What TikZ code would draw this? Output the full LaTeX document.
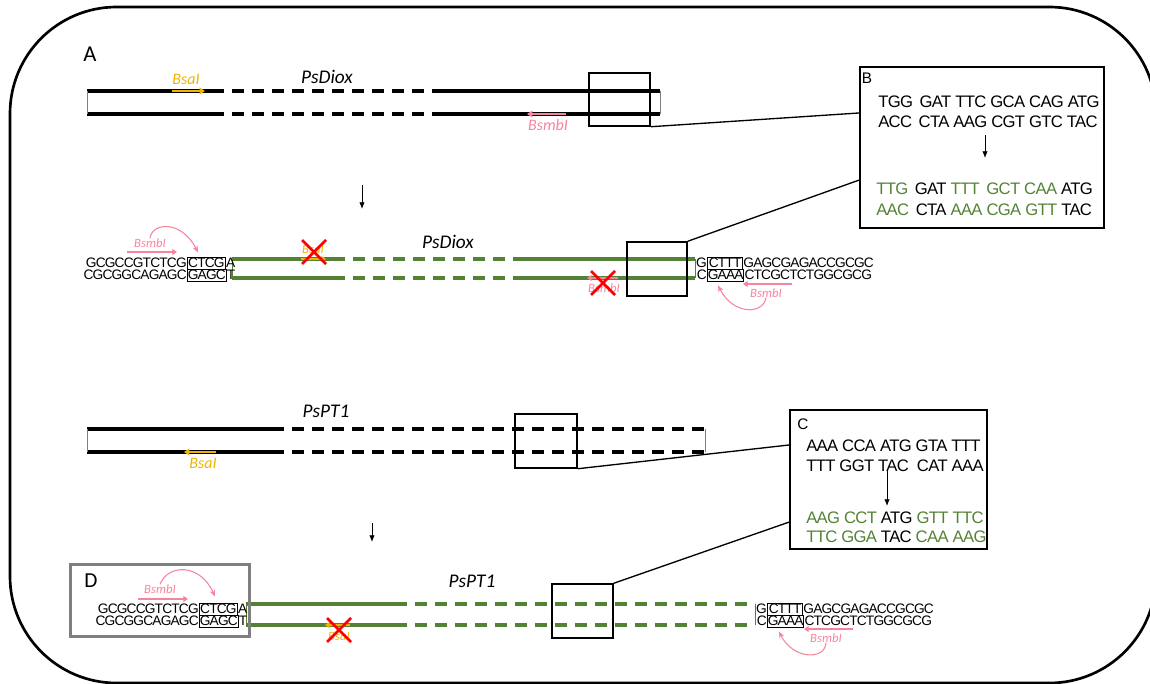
\documentclass[tikz,border=0pt]{standalone}
\usepackage{fontspec}
\setmainfont{Carlito}
\newfontfamily\arialfont{Liberation Sans}
\newfontfamily\seqfont[LetterSpace=-6]{Liberation Sans}
\newfontfamily\codonfont[LetterSpace=-4]{Liberation Sans}
\usetikzlibrary{positioning, arrows.meta, shapes.misc}

\definecolor{dnagreen}{HTML}{548235}
\definecolor{bsacol}{HTML}{F0B400}
\definecolor{bsmbcol}{HTML}{F7849D}
\definecolor{framegray}{HTML}{7F7F7F}

\tikzset{
	strand/.style={line width=3pt},
	gstrand/.style={line width=2.5pt, draw=dnagreen},
	gapped/.style={dash pattern=on 9pt off 6pt},
	strandend/.style={line width=0.6pt, draw=gray},
	gstrandend/.style={line width=0.6pt, draw=dnagreen},
	zoombox/.style={draw, line width=1.1pt, inner sep=0pt},
	panel/.style={draw, line width=1.1pt, inner sep=0pt},
	seq/.style={font=\seqfont\fontsize{10.3}{9}\selectfont, inner sep=0pt},
	seqbox/.style={seq, draw, line width=0.6pt, minimum height=9pt, inner xsep=0.3pt},
	codon/.style={font=\codonfont\fontsize{12.5}{14}\selectfont, inner sep=0pt, anchor=west},
	genename/.style={font=\fontsize{14.5}{16}\selectfont\itshape, inner sep=0pt},
	enzbig/.style={font=\fontsize{12}{14}\selectfont\itshape, inner sep=0pt},
	enzsmall/.style={font=\fontsize{9.5}{10}\selectfont\itshape, inner sep=0pt},
	enzarrow/.style={-{Triangle[length=4pt, width=5pt]}, line width=1.8pt},
	enzarrowsmall/.style={-{Triangle[length=3.5pt, width=4.5pt]}, line width=1.4pt},
	siteloop/.style={-{Stealth[length=5pt, width=4pt]}, line width=0.8pt, draw=bsmbcol},
	blocked/.style={cross out, draw=red, line width=2pt, minimum size=16pt, inner sep=0pt},
	downarrow/.style={-{Latex[length=5pt, width=4pt]}, line width=0.6pt},
	zoomline/.style={line width=1pt},
}

\begin{document}
\begin{tikzpicture}[x=0.75pt, y=-0.75pt]
	\useasboundingbox (0,0) rectangle (1150,684);
	\draw[line width=2pt, rounded corners=80pt] (10,7) rectangle (1156,683);

	\node[font=\fontsize{17}{20}\selectfont, inner sep=0pt] (labA) at (90,54) {A};

	% PsDiox, before
	\foreach \y in {91,114} {
		\draw[strand] (87,\y) -- (212,\y);
		\draw[strand, gapped] (212,\y) -- (440,\y);
		\draw[strand] (440,\y) -- (660,\y);
	}
	\draw[strandend] (87,91) -- (87,114);
	\draw[strandend] (660,91) -- (660,114);
	\node[genename] (gene1) at (327,77) {PsDiox};
	\node[enzbig, text=bsacol] (bsa1) at (186,79) {BsaI};
	\coordinate (bsa1a) at (172,91);
	\coordinate (bsa1b) at (205,91);
	\draw[enzarrow, bsacol] (bsa1a) -- (bsa1b);
	\node[enzbig, text=bsmbcol] (bsmb1) at (548,125) {BsmbI};
	\coordinate (bsmb1a) at (566,114);
	\coordinate (bsmb1b) at (527,114);
	\draw[enzarrow, bsmbcol] (bsmb1a) -- (bsmb1b);
	\node[zoombox, minimum width=45.75pt, minimum height=39.75pt] (zoom1) at (619.5,99.5) {};

	\coordinate (dn1a) at (362,185);
	\coordinate (dn1b) at (362,209);
	\draw[downarrow] (dn1a) -- (dn1b);

	% PsDiox, after
	\foreach \y in {259,278} {
		\draw[gstrand] (232,\y) -- (333,\y);
		\draw[gstrand, gapped] (333,\y) -- (518,\y);
		\draw[gstrand] (518,\y) -- (695,\y);
	}
	\draw[gstrandend] (232,259) -- (232,278);
	\draw[gstrandend] (695,259) -- (695,278);
	\node[genename] (gene2) at (448,242) {PsDiox};
	\node[zoombox, minimum width=45pt, minimum height=40.5pt] (zoom2) at (657,269) {};

	\node[seq, anchor=east] (l2t) at (187,263) {GCGCCGTCTCG};
	\node[seqbox, anchor=west, minimum width=28.5pt] (l2tb) at (187,263) {CTCG};
	\node[seq, anchor=west] (l2ta) at (l2tb.east) {A};
	\node[seq, anchor=east] (l2b) at (187,275) {CGCGGCAGAGC};
	\node[seqbox, anchor=west, minimum width=28.5pt] (l2bb) at (187,275) {GAGC};
	\node[seq, anchor=west] (l2ba) at (l2bb.east) {T};

	\node[seq, anchor=east] (r2t) at (707,263) {G};
	\node[seqbox, anchor=west, minimum width=26.5pt] (r2tb) at (707,263) {CTTT};
	\node[seq, anchor=west] (r2ta) at (r2tb.east) {GAGCGAGACCGCGC};
	\node[seq, anchor=east] (r2b) at (707,275) {C};
	\node[seqbox, anchor=west, minimum width=26.5pt] (r2bb) at (707,275) {GAAA};
	\node[seq, anchor=west] (r2ba) at (r2bb.east) {CTCGCTCTGGCGCG};

	\node[enzsmall, text=bsmbcol] (bsmb2l) at (150,243) {BsmbI};
	\coordinate (bsmb2la) at (127,252);
	\coordinate (bsmb2lb) at (177,252);
	\draw[enzarrowsmall, bsmbcol] (bsmb2la) -- (bsmb2lb);
	\draw[siteloop] (bsmb2l.north) .. controls (152,222) and (182,220) .. ([shift={(11,-4)}]l2tb.north west);

	\node[enzsmall, text=bsmbcol] (bsmb2r) at (766,293) {BsmbI};
	\coordinate (bsmb2ra) at (792,284);
	\coordinate (bsmb2rb) at (743,284);
	\draw[enzarrowsmall, bsmbcol] (bsmb2ra) -- (bsmb2rb);
	\draw[siteloop] (bsmb2r.south) .. controls (763,315) and (733,315) .. ([shift={(11,4)}]r2bb.south west);

	\node[enzsmall, text=bsacol] (bsa2) at (313,249) {BsaI};
	\coordinate (bsa2a) at (301,259);
	\coordinate (bsa2b) at (326,259);
	\draw[enzarrowsmall, bsacol] (bsa2a) -- (bsa2b);
	\node[blocked] (x2a) at (314,252) {};

	\node[enzsmall, text=bsmbcol] (bsmb2m) at (604,288) {BsmbI};
	\coordinate (bsmb2ma) at (618,278);
	\coordinate (bsmb2mb) at (587,278);
	\draw[enzarrowsmall, bsmbcol] (bsmb2ma) -- (bsmb2mb);
	\node[blocked] (x2b) at (603,283) {};

	% panel B
	\node[panel, minimum width=183pt, minimum height=120.75pt] (panB) at (982,147.5) {};
	\node[font=\arialfont\fontsize{11.5}{14}\selectfont, inner sep=0pt] (labB) at (867,78) {B};
	\node[codon] (b1) at (878,102) {TGG\hspace{2pt} GAT TTC GCA CAG ATG};
	\node[codon] (b2) at (878,122) {ACC\hspace{2pt} CTA AAG CGT GTC TAC};
	\coordinate (dnBa) at (985,135);
	\coordinate (dnBb) at (985,158);
	\draw[downarrow] (dnBa) -- (dnBb);
	\node[codon] (b3) at (876,189) {\textcolor{dnagreen}{TTG}\hspace{2pt} GAT \textcolor{dnagreen}{TTT\hspace{2pt} GCT CAA} ATG};
	\node[codon] (b4) at (876,210) {\textcolor{dnagreen}{AAC}\hspace{2pt} CTA \textcolor{dnagreen}{AAA CGA GTT} TAC};
	\draw[zoomline] (zoom1.south east) -- ([yshift=25.9pt]panB.west);
	\draw[zoomline] (zoom2.north east) -- ([yshift=-24.4pt]panB.west);

	% PsPT1, before
	\foreach \y in {429,452} {
		\draw[strand] (87,\y) -- (272,\y);
		\draw[strand, gapped] (272,\y) -- (705,\y);
	}
	\draw[strandend] (87,429) -- (87,452);
	\draw[strandend] (705,429) -- (705,452);
	\node[genename] (gene3) at (326,411) {PsPT1};
	\node[enzbig, text=bsacol] (bsa3) at (203,463) {BsaI};
	\coordinate (bsa3a) at (216,452);
	\coordinate (bsa3b) at (184,452);
	\draw[enzarrow, bsacol] (bsa3a) -- (bsa3b);
	\node[zoombox, minimum width=46.5pt, minimum height=40.5pt] (zoom3) at (546,441) {};

	\coordinate (dn3a) at (372,523);
	\coordinate (dn3b) at (372,542);
	\draw[downarrow] (dn3a) -- (dn3b);

	% PsPT1, after
	\foreach \y in {604,625} {
		\draw[gstrand] (246,\y) -- (395,\y);
		\draw[gstrand, gapped] (395,\y) -- (755,\y);
	}
	\draw[gstrandend] (246,604) -- (246,625);
	\draw[gstrandend] (755,604) -- (755,625);
	\node[genename] (gene4) at (472,581) {PsPT1};
	\node[zoombox, minimum width=45.75pt, minimum height=40.5pt] (zoom4) at (582.5,611) {};

	\node[draw=framegray, line width=2.5pt, minimum width=134.25pt, minimum height=54pt, inner sep=0pt] (panD) at (160,600.5) {};
	\node[font=\fontsize{16}{18}\selectfont, inner sep=0pt] (labD) at (91,581) {D};

	\node[seq, anchor=east] (l4t) at (199,609) {GCGCCGTCTCG};
	\node[seqbox, anchor=west, minimum width=28.5pt] (l4tb) at (199,609) {CTCG};
	\node[seq, anchor=west] (l4ta) at (l4tb.east) {A};
	\node[seq, anchor=east] (l4b) at (199,621) {CGCGGCAGAGC};
	\node[seqbox, anchor=west, minimum width=28.5pt] (l4bb) at (199,621) {GAGC};
	\node[seq, anchor=west] (l4ba) at (l4bb.east) {T};

	\node[seq, anchor=east] (r4t) at (767,609) {G};
	\node[seqbox, anchor=west, minimum width=26.5pt] (r4tb) at (767,609) {CTTT};
	\node[seq, anchor=west] (r4ta) at (r4tb.east) {GAGCGAGACCGCGC};
	\node[seq, anchor=east] (r4b) at (767,621) {C};
	\node[seqbox, anchor=west, minimum width=26.5pt] (r4bb) at (767,621) {GAAA};
	\node[seq, anchor=west] (r4ba) at (r4bb.east) {CTCGCTCTGGCGCG};

	\node[enzsmall, text=bsmbcol] (bsmb4l) at (160,589) {BsmbI};
	\coordinate (bsmb4la) at (138,599);
	\coordinate (bsmb4lb) at (188,599);
	\draw[enzarrowsmall, bsmbcol] (bsmb4la) -- (bsmb4lb);
	\draw[siteloop] (bsmb4l.north) .. controls (168,564) and (200,563) .. ([shift={(16,-6)}]l4tb.north west);

	\node[enzsmall, text=bsmbcol] (bsmb4r) at (826,638) {BsmbI};
	\coordinate (bsmb4ra) at (853,629);
	\coordinate (bsmb4rb) at (804,629);
	\draw[enzarrowsmall, bsmbcol] (bsmb4ra) -- (bsmb4rb);
	\draw[siteloop] (bsmb4r.south) .. controls (825,661) and (792,659) .. ([shift={(12,4)}]r4bb.south west);

	\node[enzsmall, text=bsacol] (bsa4) at (339,636) {BsaI};
	\coordinate (bsa4a) at (350,625);
	\coordinate (bsa4b) at (325,625);
	\draw[enzarrowsmall, bsacol] (bsa4a) -- (bsa4b);
	\node[blocked] (x4) at (339,630) {};

	% panel C
	\node[panel, minimum width=147.75pt, minimum height=104.25pt] (panC) at (888.5,479.5) {};
	\node[font=\arialfont\fontsize{11.5}{14}\selectfont, inner sep=0pt] (labC) at (803,424.5) {C};
	\node[codon] (c1) at (806,446) {AAA CCA ATG GTA TTT};
	\node[codon] (c2) at (806,466) {TTT GGT TAC\hspace{3pt} CAT AAA};
	\coordinate (dnCa) at (887,470);
	\coordinate (dnCb) at (887,506);
	\draw[downarrow] (dnCa) -- (dnCb);
	\node[codon] (c3) at (806,518) {\textcolor{dnagreen}{AAG CCT} ATG \textcolor{dnagreen}{GTT TTC}};
	\node[codon] (c4) at (806,537) {\textcolor{dnagreen}{TTC GGA} TAC \textcolor{dnagreen}{CAA AAG}};
	\draw[zoomline] (zoom3.south east) -- ([yshift=25.9pt]panC.west);
	\draw[zoomline] (zoom4.north east) -- ([yshift=-31.9pt]panC.west);
\end{tikzpicture}
\end{document}
